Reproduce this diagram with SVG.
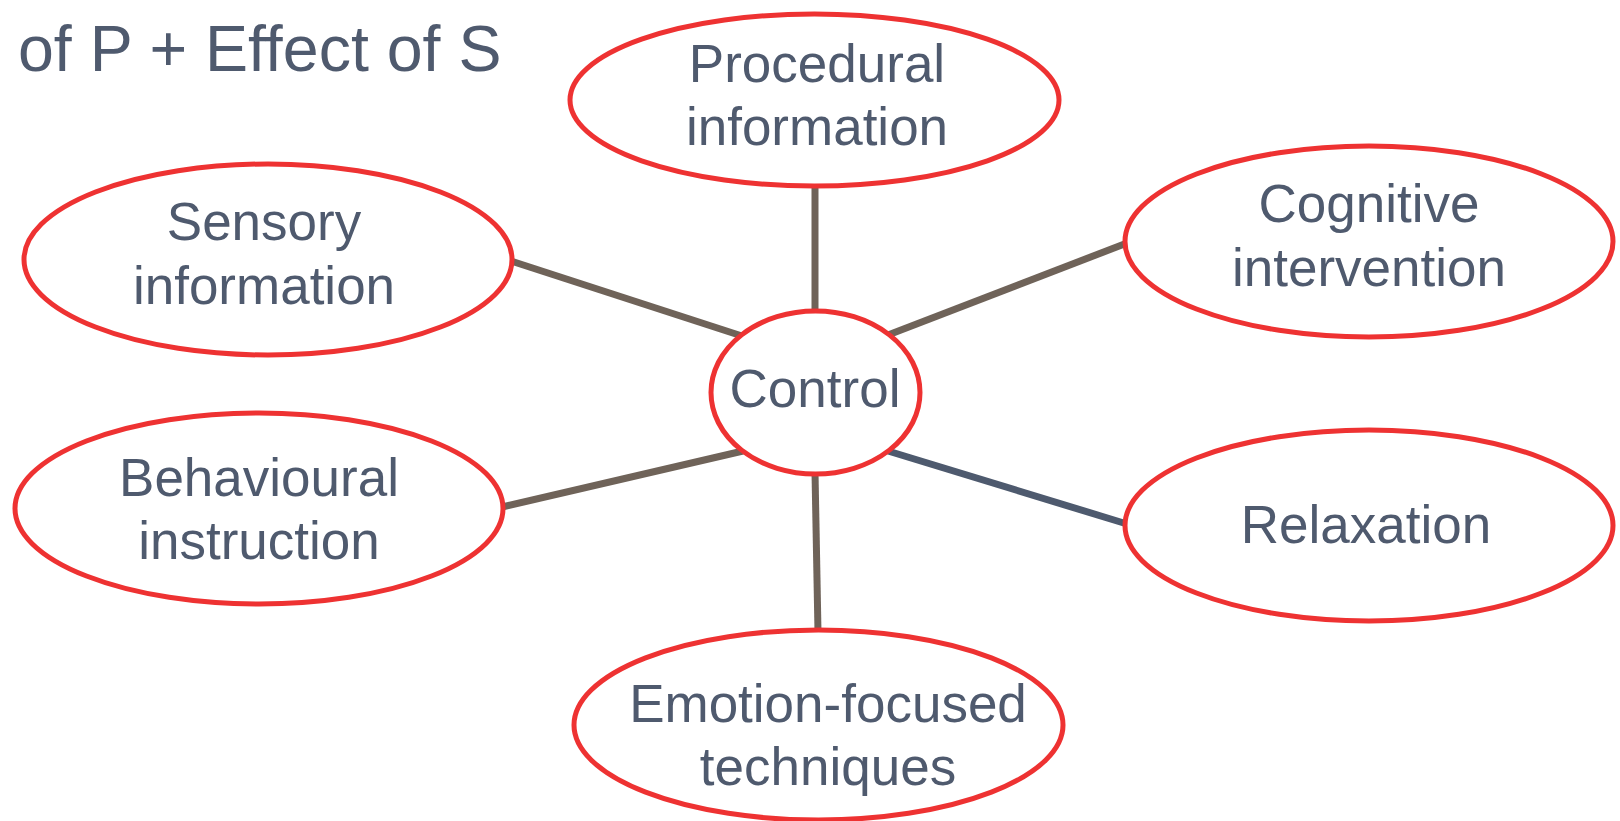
<svg xmlns="http://www.w3.org/2000/svg" width="1620" height="821" viewBox="0 0 1620 821">
  <style>
    .node { fill: #ffffff; stroke: #EE3232; stroke-width: 5; }
    .label { font-family: "Liberation Sans", Arial, sans-serif; font-size: 53px; fill: #4F5A6E; text-anchor: middle; }
    .title { font-family: "Liberation Sans", Arial, sans-serif; font-size: 64.5px; fill: #4F5A6E; }
    .link { stroke: #6F6359; stroke-width: 7; fill: none; }
    .link-alt { stroke: #4E5A6E; stroke-width: 7; fill: none; }
  </style>
  <rect width="1620" height="821" fill="#ffffff"/>

  <text class="title" x="18" y="71">of P + Effect of S</text>

  <g id="connectors">
    <line class="link" x1="815" y1="186" x2="815" y2="312"/>
    <line class="link" x1="511" y1="261" x2="742" y2="336"/>
    <line class="link" x1="1127" y1="243" x2="888" y2="335"/>
    <line class="link" x1="502" y1="507" x2="743" y2="451"/>
    <line class="link-alt" x1="888" y1="451" x2="1127" y2="524"/>
    <line class="link" x1="815" y1="472" x2="818" y2="632"/>
  </g>

  <g id="node-procedural">
    <ellipse class="node" cx="814.5" cy="100" rx="244.5" ry="86"/>
    <text class="label" x="817" y="82">Procedural</text>
    <text class="label" x="817" y="145">information</text>
  </g>

  <g id="node-sensory">
    <ellipse class="node" cx="268" cy="259.5" rx="244" ry="95.5"/>
    <text class="label" x="264" y="240">Sensory</text>
    <text class="label" x="264" y="304">information</text>
  </g>

  <g id="node-cognitive">
    <ellipse class="node" cx="1369" cy="241.5" rx="244" ry="95.5"/>
    <text class="label" x="1369" y="222">Cognitive</text>
    <text class="label" x="1369" y="286">intervention</text>
  </g>

  <g id="node-behavioural">
    <ellipse class="node" cx="259" cy="508.5" rx="244" ry="95.5"/>
    <text class="label" x="259" y="496">Behavioural</text>
    <text class="label" x="259" y="559">instruction</text>
  </g>

  <g id="node-relaxation">
    <ellipse class="node" cx="1369" cy="525.5" rx="244" ry="95.5"/>
    <text class="label" x="1366" y="543">Relaxation</text>
  </g>

  <g id="node-emotion">
    <ellipse class="node" cx="818.5" cy="725" rx="244.5" ry="95"/>
    <text class="label" x="828" y="722">Emotion-focused</text>
    <text class="label" x="828" y="785">techniques</text>
  </g>

  <g id="node-control">
    <ellipse class="node" cx="815.5" cy="392.5" rx="104.5" ry="81.5"/>
    <text class="label" x="815" y="407">Control</text>
  </g>
</svg>
